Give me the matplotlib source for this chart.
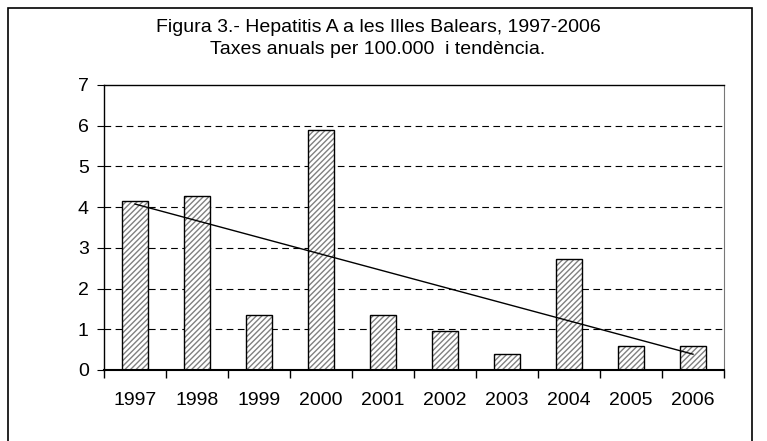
import matplotlib
matplotlib.use("Agg")
import matplotlib.pyplot as plt
import numpy as np
from matplotlib.patches import Rectangle

plt.rcParams["font.family"] = ["Liberation Sans", "DejaVu Sans"]

# Taxes anuals per 100.000 habitants
anys = ["1997", "1998", "1999", "2000", "2001", "2002", "2003", "2004", "2005", "2006"]
taxes = [4.15, 4.27, 1.35, 5.9, 1.35, 0.97, 0.4, 2.73, 0.6, 0.6]

fig = plt.figure(figsize=(7.67, 4.41), dpi=100)

# marc exterior
fig.patches.append(Rectangle((8 / 767, -0.05), 744 / 767, 1.05 - 8 / 441,
                             transform=fig.transFigure, fill=False,
                             edgecolor="black", linewidth=1.2))

fig.text(378 / 767, 1 - 28 / 441, "Figura 3.- Hepatitis A a les Illes Balears, 1997-2006",
         ha="center", va="center", fontsize=14)
fig.text(378 / 767, 1 - 49 / 441, "Taxes anuals per 100.000  i tendència.",
         ha="center", va="center", fontsize=14)

ax = fig.add_axes([104 / 767, 1 - 370 / 441, 620 / 767, 285 / 441])
x = np.arange(len(anys))

# barres ratllades
ax.bar(x, taxes, width=0.42, facecolor="white", edgecolor="#808080",
       hatch="//////", linewidth=0, zorder=2)
ax.bar(x, taxes, width=0.42, fill=False, edgecolor="black", linewidth=1, zorder=3)

# tendència lineal
m, b = np.polyfit(x, taxes, 1)
ax.plot([x[0], x[-1]], [m * x[0] + b, m * x[-1] + b], color="black", linewidth=1, zorder=4)

ax.set_xlim(-0.5, len(anys) - 0.5)
ax.set_ylim(0, 7)
ax.set_yticks(range(8))
ax.set_xticks(np.arange(-0.5, len(anys), 1.0))
ax.set_xticklabels([])
ax.set_xticks(x, minor=True)
ax.set_xticklabels(anys, minor=True)
ax.tick_params(axis="x", which="major", direction="out", length=6, width=1)
ax.tick_params(axis="x", which="minor", length=0, pad=16, labelsize=14)
ax.tick_params(axis="y", direction="out", length=5, labelsize=14, pad=6)

for yv in range(1, 7):
    ax.axhline(yv, color="black", linestyle=(0, (6, 4)), linewidth=0.8, zorder=1)

ax.spines["right"].set_color("#777777")
for s in ["top", "left"]:
    ax.spines[s].set_linewidth(1)
ax.spines["bottom"].set_linewidth(1.5)

fig.savefig("out.png", dpi=100)
